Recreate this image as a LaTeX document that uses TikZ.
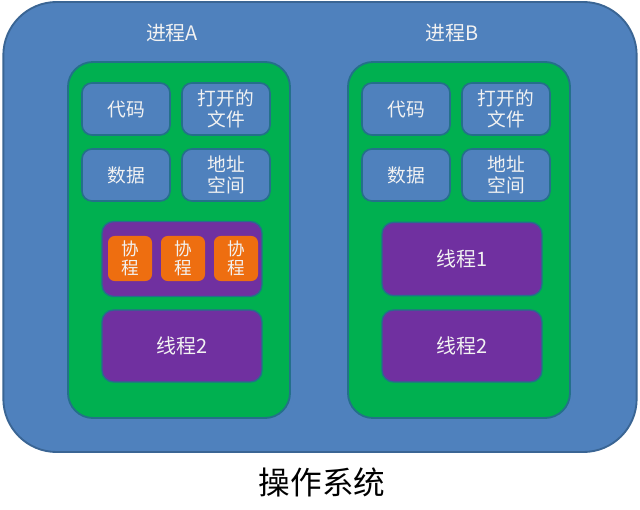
\documentclass[tikz,border=0pt]{standalone}
\usepackage{fontspec}
\setmainfont{Noto Sans CJK SC}
\usetikzlibrary{positioning}
\definecolor{osblue}{HTML}{4F81BD}
\definecolor{osedge}{HTML}{3A6594}
\definecolor{procgreen}{HTML}{00B050}
\definecolor{procedge}{HTML}{24708A}
\definecolor{thrpurple}{HTML}{7030A0}
\definecolor{coorange}{HTML}{EE6E10}
\definecolor{labelwhite}{HTML}{F2F2F2}

\begin{document}
\begin{tikzpicture}[x=0.03cm,y=-0.03cm,
		os/.style={draw=osedge,fill=osblue,line width=1.6pt,rounded corners=1.6cm,
			minimum width=19cm,minimum height=13.5cm},
		proc/.style={draw=procedge,fill=procgreen,line width=1.6pt,rounded corners=0.75cm,
			minimum width=6.66cm,minimum height=10.68cm},
		res/.style={draw=procedge,fill=osblue,line width=1.4pt,rounded corners=0.3cm,
			minimum width=2.64cm,minimum height=1.56cm,text=labelwhite,align=center,
			inner sep=1pt,font=\fontsize{16}{17.5}\selectfont},
		thr/.style={draw=procedge,fill=thrpurple,line width=1.2pt,rounded corners=0.35cm,
			minimum width=4.8cm,minimum height=2.2cm,text=labelwhite,
			font=\fontsize{17}{19}\selectfont},
		co/.style={fill=coorange,rounded corners=0.2cm,minimum width=1.32cm,
			minimum height=1.35cm,text=labelwhite,align=center,inner sep=1pt,
			font=\fontsize{15}{16.5}\selectfont},
		title/.style={text=labelwhite,font=\fontsize{17}{19}\selectfont}]
		\useasboundingbox (0,0) rectangle (640,510);
		% operating system
		\node[os] (os) at (320,227) {};
		\node[font=\fontsize{27}{30}\selectfont] (oslabel) at (322,482) {操作系统};
		% process A
		\node[title] (titleA) at (172,33) {进程A};
		\node[proc] (procA) at (179,240) {};
		\node[res] (codeA) at (126,109) {代码};
		\node[res] (fileA) at (226,109) {打开的\\文件};
		\node[res] (dataA) at (126,175) {数据};
		\node[res] (addrA) at (226,175) {地址\\空间};
		\node[thr,minimum height=2.25cm] (thread1A) at (182,259) {};
		\node[co] (co1) at (130,258.5) {协\\程};
		\node[co] (co2) at (183,258.5) {协\\程};
		\node[co] (co3) at (236,258.5) {协\\程};
		\node[thr,minimum height=2.16cm] (thread2A) at (182,346) {线程2};
		% process B
		\node[title] (titleB) at (452,33) {进程B};
		\node[proc] (procB) at (459,240) {};
		\node[res] (codeB) at (406,109) {代码};
		\node[res] (fileB) at (506,109) {打开的\\文件};
		\node[res] (dataB) at (406,175) {数据};
		\node[res] (addrB) at (506,175) {地址\\空间};
		\node[thr] (thread1B) at (462,259) {线程1};
		\node[thr,minimum height=2.16cm] (thread2B) at (462,346) {线程2};
\end{tikzpicture}
\end{document}
